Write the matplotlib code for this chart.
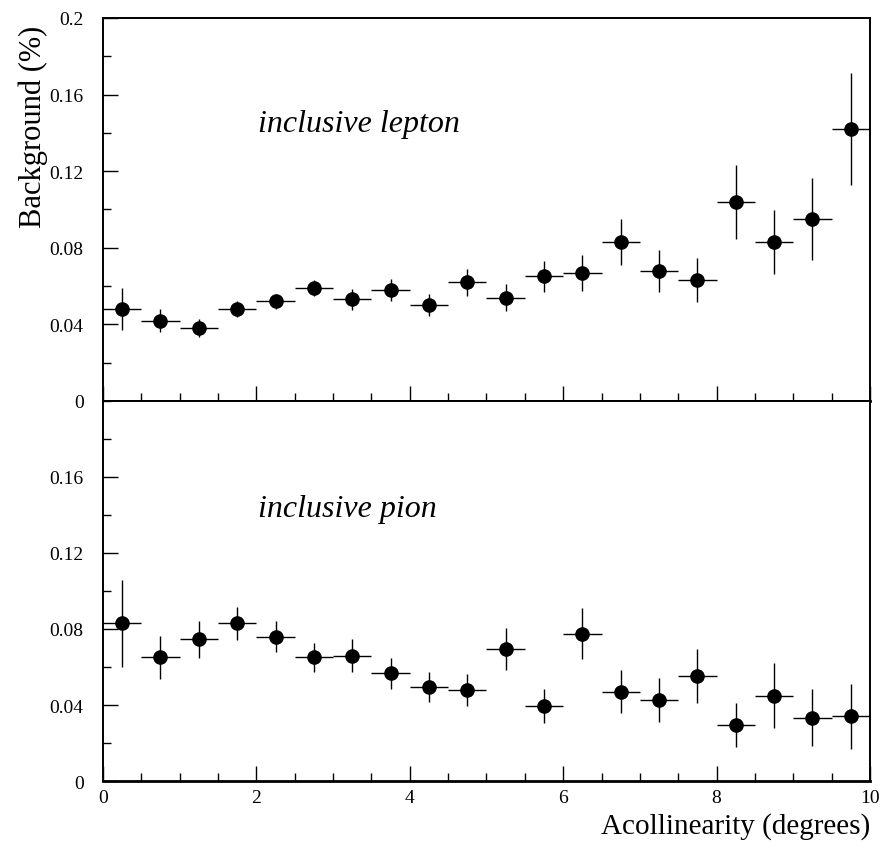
import numpy as np
import matplotlib
matplotlib.use("Agg")
import matplotlib.pyplot as plt
from matplotlib.ticker import MultipleLocator

plt.rcParams['font.family'] = ['Liberation Serif', 'DejaVu Serif']

# bin centres in acollinearity (degrees), bin half-width 0.25
acol = np.arange(0.25, 10.0, 0.5)
half_bin = 0.25

lepton_bkg = [0.048, 0.042, 0.038, 0.048, 0.052, 0.059, 0.053, 0.058, 0.050, 0.062,
              0.054, 0.065, 0.067, 0.083, 0.068, 0.063, 0.104, 0.083, 0.095, 0.142]
lepton_err = [0.011, 0.006, 0.0046, 0.0043, 0.004, 0.0043, 0.0055, 0.0056, 0.0056, 0.0071,
              0.0072, 0.0083, 0.0094, 0.012, 0.011, 0.0115, 0.0193, 0.0168, 0.0213, 0.0293]

pion_bkg = [0.083, 0.065, 0.0745, 0.083, 0.076, 0.065, 0.066, 0.0567, 0.0497, 0.048,
            0.0693, 0.0395, 0.0775, 0.047, 0.0427, 0.0553, 0.0294, 0.0448, 0.0334, 0.034]
pion_err = [0.023, 0.0112, 0.0099, 0.0088, 0.0081, 0.0077, 0.0086, 0.0081, 0.0079, 0.0085,
            0.0111, 0.0089, 0.0135, 0.0114, 0.0114, 0.0142, 0.0116, 0.0171, 0.015, 0.0173]

top_ticks = [0, 0.04, 0.08, 0.12, 0.16, 0.2]
top_labels = ['0', '0.04', '0.08', '0.12', '0.16', '0.2']
bot_ticks = [0, 0.04, 0.08, 0.12, 0.16]
bot_labels = ['0', '0.04', '0.08', '0.12', '0.16']
x_ticks = [0, 2, 4, 6, 8, 10]

fig = plt.figure(figsize=(8.83, 8.54), dpi=100)
ax1 = fig.add_axes([0.1166, 0.5293, 0.8687, 0.4485])
ax2 = fig.add_axes([0.1166, 0.0843, 0.8687, 0.4450])


def style_panel(ax, yticks, ylabels):
    ax.set_xlim(0, 10)
    ax.set_ylim(0, 0.2)
    ax.set_yticks(yticks)
    ax.set_yticklabels(ylabels)
    ax.yaxis.set_minor_locator(MultipleLocator(0.02))
    ax.set_xticks(x_ticks)
    ax.xaxis.set_minor_locator(MultipleLocator(0.5))
    ax.tick_params(which='both', direction='in', top=False, right=False,
                   labelsize=14, width=1.0)
    ax.tick_params(which='major', length=11)
    ax.tick_params(which='minor', length=6)
    ax.tick_params(axis='y', pad=14)
    ax.tick_params(axis='x', pad=6)
    for side in ['left', 'bottom', 'right', 'top']:
        ax.spines[side].set_linewidth(1.4)
    ax.spines['bottom'].set_linewidth(2.0)


for ax, vals, errs in [(ax1, lepton_bkg, lepton_err), (ax2, pion_bkg, pion_err)]:
    ax.errorbar(acol, vals, xerr=half_bin, yerr=errs, fmt='o', color='black',
                markersize=9.5, elinewidth=1.0, capsize=0)

style_panel(ax1, top_ticks, top_labels)
style_panel(ax2, bot_ticks, bot_labels)
ax1.set_xticklabels([])

ax1.text(2.02, 0.141, 'inclusive lepton', style='italic', fontsize=23, va='baseline')
ax2.text(2.02, 0.1395, 'inclusive pion', style='italic', fontsize=23, va='baseline')

fig.text(33 / 883, 1 - 127 / 854, 'Background (%)', rotation=90, fontsize=22,
         ha='center', va='center')
ax2.set_xlabel('Acollinearity (degrees)', fontsize=21, loc='right', labelpad=4)

fig.savefig('out.png', dpi=100)
